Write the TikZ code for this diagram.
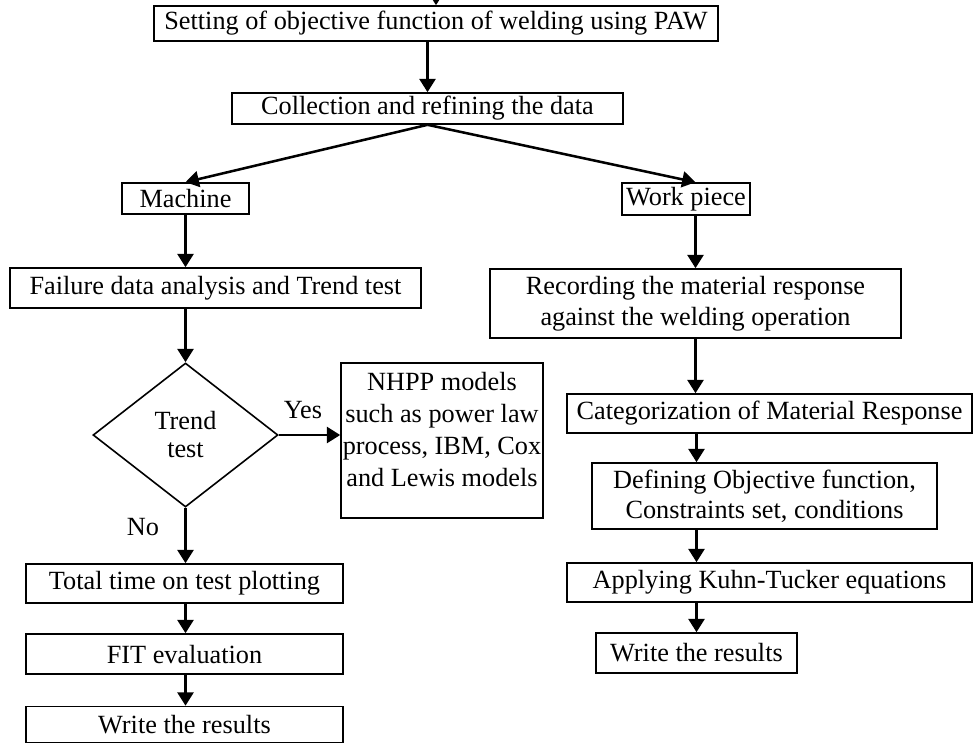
\documentclass[tikz,border=0pt]{standalone}
\usepackage{fontspec}
\setmainfont{Liberation Serif}
\usetikzlibrary{shapes.geometric,arrows.meta,calc}
\begin{document}
\begin{tikzpicture}[x=0.75pt,y=-0.75pt,
  txt/.style={font=\fontsize{19.7}{23.5}\selectfont},
  box/.style={draw,line width=1.2pt,inner sep=0pt,align=center,txt},
  lbl/.style={inner sep=0pt,align=center,txt},
  arr/.style={line width=1.9pt,-{Triangle[width=12pt,length=10pt]}}]
\useasboundingbox (0,0) rectangle (973,744);
% top
\node[box,minimum width=423pt,minimum height=26.25pt] (top) at (436,23.5) {Setting of objective function of welding using PAW};
\node[box,minimum width=293.25pt,minimum height=23.25pt] (coll) at (427.5,108.5) {Collection and refining the data};
\node[box,minimum width=95.25pt,minimum height=23.25pt] (mach) at (185.5,198.5) {Machine};
\node[box,minimum width=96pt,minimum height=24pt] (work) at (686,199) {Work piece};
% left column
\node[box,minimum width=308.25pt,minimum height=30pt] (fail) at (215.5,288) {Failure data analysis and Trend test};
\node[box,diamond,minimum width=138.75pt,minimum height=108pt,font=\fontsize{19.7}{21}\selectfont] (dia) at (185.5,435) {Trend\\test};
\node[box,minimum width=151.5pt,minimum height=116.25pt] (nhpp) at (442,440.5) {};
\node[lbl,font=\fontsize{19.7}{24}\selectfont] (nhpptxt) at (442,430) {NHPP models\\such as power law\\process, IBM, Cox\\and Lewis models};
\node[box,minimum width=237.75pt,minimum height=29.25pt] (total) at (184.5,583.5) {Total time on test plotting};
\node[box,minimum width=237.75pt,minimum height=30pt] (fit) at (184.5,654) {FIT evaluation};
\node[box,minimum width=237.75pt,minimum height=27pt] (wr1) at (184.5,724.5) {Write the results};
\node[lbl] (yes) at (303,410) {Yes};
\node[lbl] (no) at (143,527) {No};
% right column
\node[box,minimum width=308.25pt,minimum height=51.75pt,font=\fontsize{19.7}{23.25}\selectfont] (rec) at (695.5,303.5) {Recording the material response\\against the welding operation};
\node[box,minimum width=303.75pt,minimum height=29.25pt] (cat) at (769.5,413.5) {Categorization of Material Response};
\node[box,minimum width=258.75pt,minimum height=49.5pt,font=\fontsize{19.7}{22.5}\selectfont] (def) at (764.5,496) {Defining Objective function,\\Constraints set, conditions};
\node[box,minimum width=303.75pt,minimum height=29.25pt] (app) at (769.5,582.5) {Applying Kuhn-Tucker equations};
\node[box,minimum width=150.75pt,minimum height=30pt] (wr2) at (696.5,653) {Write the results};
% connectors
\coordinate (above) at (436,-14);
\draw[arr] (above) -- (top.north);
\draw[arr] (coll.north |- top.south) -- (coll.north);
\draw[arr] (coll.south) -- (mach.north);
\draw[arr] (coll.south) -- (rec.north |- work.north);
\draw[arr] (mach.south) -- (mach.south |- fail.north);
\draw[arr] (mach.south |- fail.south) -- (dia.north);
\draw[arr] (dia.east) -- (dia.east -| nhpp.west);
\draw[arr] (dia.south) -- (dia.south |- total.north);
\draw[arr] (dia.south |- total.south) -- (dia.south |- fit.north);
\draw[arr] (dia.south |- fit.south) -- (dia.south |- wr1.north);
\draw[arr] (rec.north |- work.south) -- (rec.north);
\draw[arr] (rec.south) -- (rec.south |- cat.north);
\draw[arr] (wr2.north |- cat.south) -- (wr2.north |- def.north);
\draw[arr] (wr2.north |- def.south) -- (wr2.north |- app.north);
\draw[arr] (wr2.north |- app.south) -- (wr2.north);
\end{tikzpicture}
\end{document}
